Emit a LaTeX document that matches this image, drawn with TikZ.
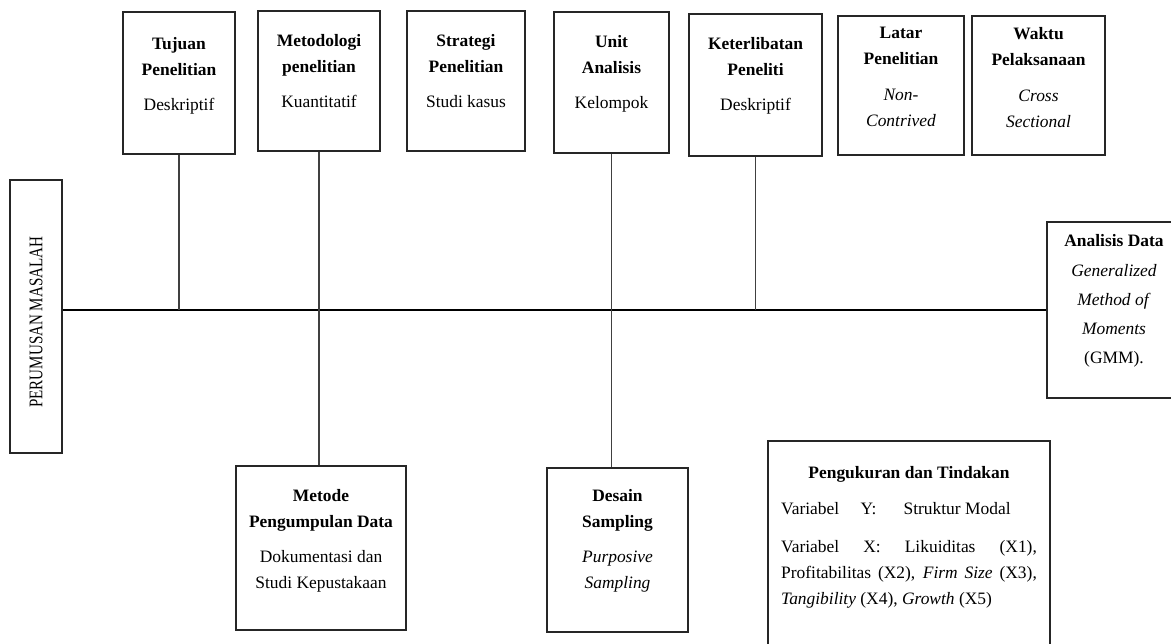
\documentclass[tikz,border=0pt]{standalone}
\usepackage{fontspec}
\setmainfont{Liberation Serif}
\usetikzlibrary{positioning}
\setlength{\parindent}{0pt}
\tikzset{
  kotak/.style={draw=black!85, line width=1.1pt, inner sep=0pt},
  isi/.style={align=center, inner sep=0pt, font=\fontsize{12.2}{18.2}\selectfont},
  garis/.style={line width=0.8pt, black!75},
  utama/.style={line width=1.2pt, black},
}
\begin{document}
\begin{tikzpicture}[x=0.7pt, y=-0.7pt]
      \useasboundingbox (0,0) rectangle (1171,644);

      % Boxes
      \node[kotak, minimum width=36.4pt, minimum height=191.1pt] (perumusan) at (36,316.5) {};
      \node[kotak, minimum width=78.4pt, minimum height=99.4pt] (tujuan) at (179,83) {};
      \node[kotak, minimum width=85.4pt, minimum height=98pt] (metodologi) at (319,81) {};
      \node[kotak, minimum width=82.6pt, minimum height=98pt] (strategi) at (466,81) {};
      \node[kotak, minimum width=80.5pt, minimum height=98.7pt] (unit) at (611.5,82.5) {};
      \node[kotak, minimum width=93.1pt, minimum height=99.4pt] (keterlibatan) at (755.5,85) {};
      \node[kotak, minimum width=88.2pt, minimum height=97.3pt] (latar) at (901,85.5) {};
      \node[kotak, minimum width=93.1pt, minimum height=97.3pt] (waktu) at (1038.5,85.5) {};
      \node[kotak, minimum width=93.8pt, minimum height=123.2pt] (analisis) at (1114,310) {};
      \node[kotak, minimum width=119pt, minimum height=114.8pt] (metode) at (321,548) {};
      \node[kotak, minimum width=98.7pt, minimum height=114.8pt] (desain) at (617.5,550) {};
      \node[kotak, minimum width=197.4pt, minimum height=153.3pt] (pengukuran) at (909,550.5) {};

      % Labels
      \node[rotate=90] (perumusan-t) at ([yshift=-4pt]perumusan.center)
        {\scalebox{0.78}[1]{\fontsize{13.5}{16}\selectfont PERUMUSAN MASALAH}};
      \node[isi, below=17.8pt of tujuan.north] (tujuan-t)
        {\textbf{Tujuan}\\\textbf{Penelitian}\\[6.3pt]Deskriptif};
      \node[isi, below=16.4pt of metodologi.north] (metodologi-t)
        {\textbf{Metodologi}\\\textbf{penelitian}\\[6.3pt]Kuantitatif};
      \node[isi, below=16.4pt of strategi.north] (strategi-t)
        {\textbf{Strategi}\\\textbf{Penelitian}\\[6.3pt]Studi kasus};
      \node[isi, below=16.4pt of unit.north] (unit-t)
        {\textbf{Unit}\\\textbf{Analisis}\\[6.3pt]Kelompok};
      \node[isi, below=16.4pt of keterlibatan.north] (keterlibatan-t)
        {\textbf{Keterlibatan}\\\textbf{Peneliti}\\[6.3pt]Deskriptif};
      \node[isi, below=8.2pt of latar.north] (latar-t)
        {\textbf{Latar}\\\textbf{Penelitian}\\[7pt]\textit{Non-}\\\textit{Contrived}};
      \node[isi, below=8.2pt of waktu.north] (waktu-t)
        {\textbf{Waktu}\\\textbf{Pelaksanaan}\\[7pt]\textit{Cross}\\\textit{Sectional}};
      \node[isi, font=\fontsize{12.2}{20.3}\selectfont, below=9.2pt of analisis.north] (analisis-t)
        {\textbf{Analisis Data}\\[0.7pt]\textit{Generalized}\\\textit{Method of}\\\textit{Moments}\\(GMM).};
      \node[isi, below=16.4pt of metode.north] (metode-t)
        {\textbf{Metode}\\\textbf{Pengumpulan Data}\\[6.3pt]Dokumentasi dan\\Studi Kepustakaan};
      \node[isi, below=15.6pt of desain.north] (desain-t)
        {\textbf{Desain}\\\textbf{Sampling}\\[6.3pt]\textit{Purposive}\\\textit{Sampling}};
      \node[isi, align=justify, text width=179pt, below=18pt of pengukuran.north] (pengukuran-t)
        {{\centering\textbf{Pengukuran dan Tindakan}\par}
         \vspace{7pt}
         Variabel\hspace{15pt}Y:\hspace{19pt}Struktur Modal\par
         \vspace{8.4pt}
         Variabel X: Likuiditas (X1),\linebreak
         Profitabilitas (X2), \textit{Firm Size} (X3),\linebreak
         \textit{Tangibility} (X4), \textit{Growth} (X5)\par};

      % Lines
      \draw[utama] (perumusan.east |- analisis.west) -- (analisis.west);
      \draw[garis] (tujuan.south) -- (tujuan.south |- analisis.west);
      \draw[garis] (metodologi.south) -- (metodologi.south |- metode.north);
      \draw[garis] (unit.south) -- (unit.south |- desain.north);
      \draw[garis] (keterlibatan.south) -- (keterlibatan.south |- analisis.west);
\end{tikzpicture}
\end{document}
